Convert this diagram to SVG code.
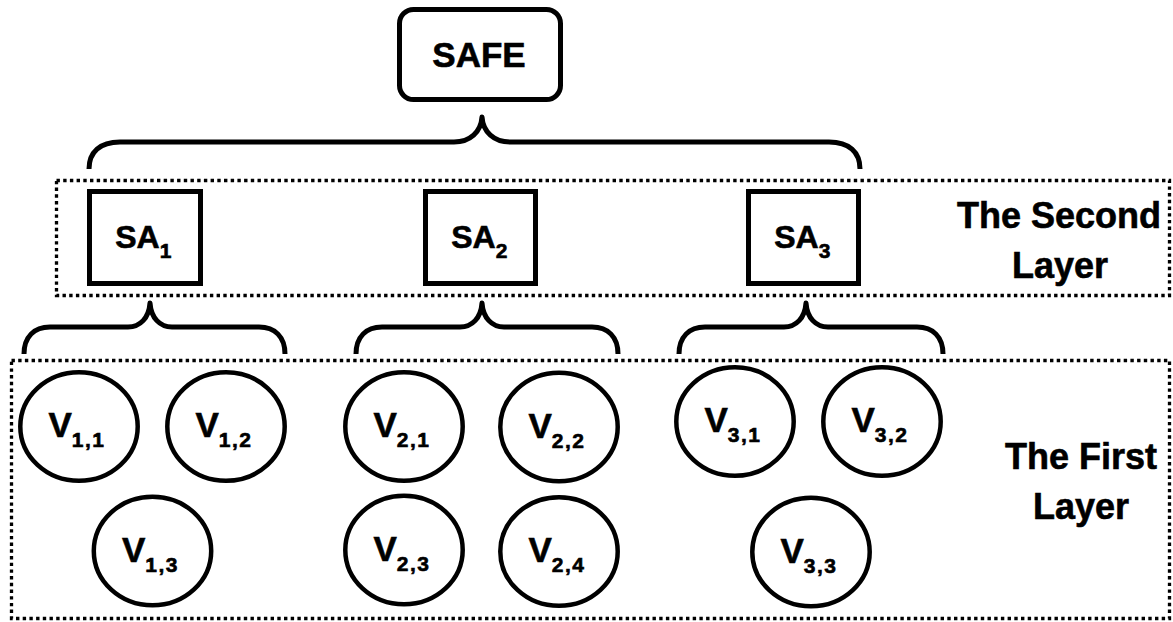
<svg xmlns="http://www.w3.org/2000/svg" width="1173" height="622" viewBox="0 0 1173 622">
<style>
text{font-family:"Liberation Sans",Arial,sans-serif;font-weight:bold;fill:#000;stroke:#000;stroke-width:0.6;text-anchor:middle}
.lbl{font-size:35px}
.sa{font-size:32px}
.sub{font-size:21px;letter-spacing:1.5px}
.layer{font-size:36px}
.node{fill:#fff;stroke:#000;stroke-width:4.5}
.box{fill:#fff;stroke:#000;stroke-width:5}
.dot{fill:none;stroke:#000;stroke-width:3.3;stroke-dasharray:3.4 3.3}
.brace{fill:none;stroke:#000;stroke-width:5;stroke-linecap:butt;stroke-linejoin:round}
</style>
<rect width="1173" height="622" fill="#fff"/>
<g id="layer2-frame">
<rect class="dot" x="56.5" y="180.5" width="1113" height="115"/>
<text class="layer" x="1059" y="228">The Second</text>
<text class="layer" x="1060" y="278">Layer</text>
</g>
<g id="layer1-frame">
<rect class="dot" x="11.5" y="360.5" width="1158" height="258"/>
<text class="layer" x="1081" y="469">The First</text>
<text class="layer" x="1081" y="519">Layer</text>
</g>
<g id="connectors">
<path class="brace" d="M89,169 C89,152 100,142 120,142 L454,142 C470,142 481,132 482,117 C483,132 494,142 510,142 L829,142 C849,142 860,152 860,169"/>
<path class="brace" d="M24,354 C24,337 34,327 50,327 L128,327 C140,327 149,318 150,303 C151,318 160,327 172,327 L259,327 C275,327 285,337 285,354"/>
<path class="brace" d="M356,354 C356,337 366,327 382,327 L460,327 C472,327 481,318 482,303 C483,318 492,327 504,327 L592,327 C608,327 618,337 618,354"/>
<path class="brace" d="M679,354 C679,337 689,327 705,327 L784,327 C796,327 805,318 806,303 C807,318 816,327 828,327 L917,327 C933,327 943,337 943,354"/>
</g>
<g id="safe">
<rect class="box" x="399.5" y="9.5" width="161" height="90" rx="14"/>
<text class="lbl" x="479" y="67">SAFE</text>
</g>
<g id="sa1">
<rect class="box" x="89.5" y="191.5" width="111" height="92"/>
<text class="sa" x="144" y="248">SA<tspan class="sub" dy="10">1</tspan></text>
</g>
<g id="sa2">
<rect class="box" x="425.5" y="191.5" width="110" height="92"/>
<text class="sa" x="480" y="248">SA<tspan class="sub" dy="10">2</tspan></text>
</g>
<g id="sa3">
<rect class="box" x="748.5" y="191.5" width="110" height="92"/>
<text class="sa" x="803" y="248">SA<tspan class="sub" dy="10">3</tspan></text>
</g>
<g id="v11"><ellipse class="node" cx="79" cy="426.5" rx="58.7" ry="54.3"/><text class="lbl" x="77" y="437">V<tspan class="sub" dy="10">1,1</tspan></text></g>
<g id="v12"><ellipse class="node" cx="226" cy="426.5" rx="58.7" ry="54.3"/><text class="lbl" x="224" y="437">V<tspan class="sub" dy="10">1,2</tspan></text></g>
<g id="v13"><ellipse class="node" cx="152.5" cy="551" rx="58.7" ry="54.3"/><text class="lbl" x="150.5" y="561.5">V<tspan class="sub" dy="10">1,3</tspan></text></g>
<g id="v21"><ellipse class="node" cx="404" cy="426.5" rx="58.7" ry="54.3"/><text class="lbl" x="402" y="437">V<tspan class="sub" dy="10">2,1</tspan></text></g>
<g id="v22"><ellipse class="node" cx="559" cy="427" rx="58.7" ry="54.3"/><text class="lbl" x="557" y="437.5">V<tspan class="sub" dy="10">2,2</tspan></text></g>
<g id="v23"><ellipse class="node" cx="404" cy="550" rx="58.7" ry="54.3"/><text class="lbl" x="402" y="560.5">V<tspan class="sub" dy="10">2,3</tspan></text></g>
<g id="v24"><ellipse class="node" cx="559" cy="551.5" rx="58.7" ry="54.3"/><text class="lbl" x="557" y="562">V<tspan class="sub" dy="10">2,4</tspan></text></g>
<g id="v31"><ellipse class="node" cx="735" cy="421.5" rx="58.7" ry="54.3"/><text class="lbl" x="733" y="432">V<tspan class="sub" dy="10">3,1</tspan></text></g>
<g id="v32"><ellipse class="node" cx="882" cy="421.5" rx="58.7" ry="54.3"/><text class="lbl" x="880" y="432">V<tspan class="sub" dy="10">3,2</tspan></text></g>
<g id="v33"><ellipse class="node" cx="811" cy="552" rx="58.7" ry="54.3"/><text class="lbl" x="809" y="562.5">V<tspan class="sub" dy="10">3,3</tspan></text></g>
</svg>
